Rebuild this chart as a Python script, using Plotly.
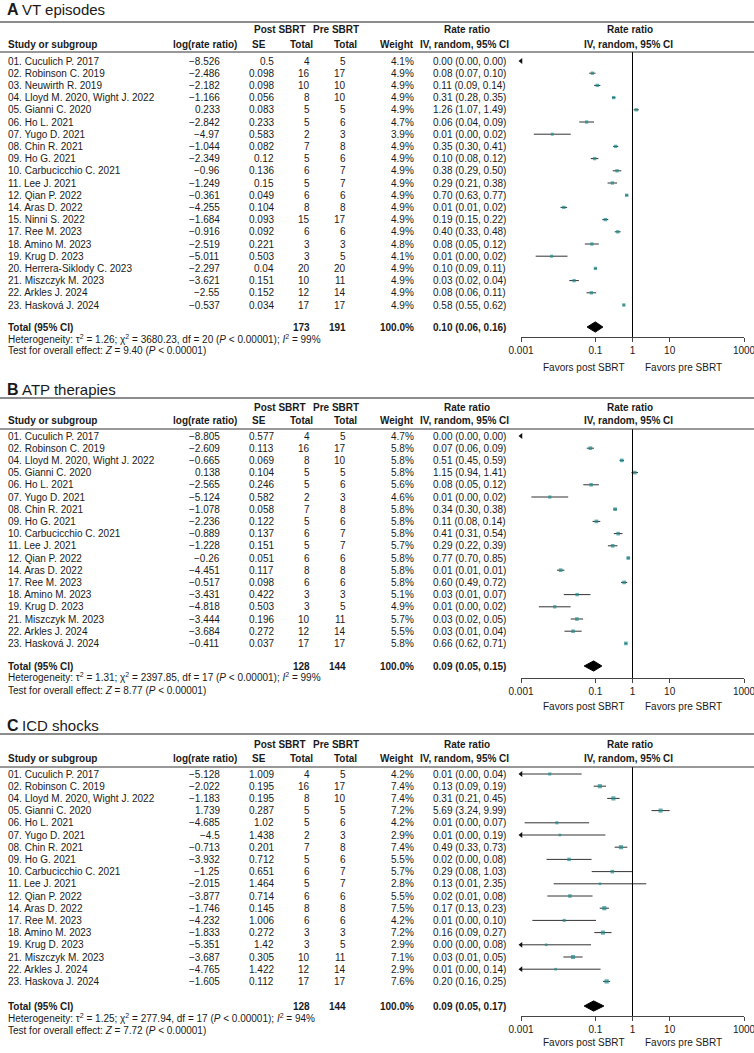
import math
import plotly.graph_objects as go

# ---------------- DATA ----------------
studies_A = ["01. Cuculich P. 2017", "02. Robinson C. 2019", "03. Neuwirth R. 2019",
             "04. Lloyd M. 2020, Wight J. 2022", "05. Gianni C. 2020", "06. Ho L. 2021",
             "07. Yugo D. 2021", "08. Chin R. 2021", "09. Ho G. 2021", "10. Carbucicchio C. 2021",
             "11. Lee J. 2021", "12. Qian P. 2022", "14. Aras D. 2022", "15. Ninni S. 2022",
             "17. Ree M. 2023", "18. Amino M. 2023", "19. Krug D. 2023",
             "20. Herrera-Siklody C. 2023", "21. Miszczyk M. 2023", "22. Arkles J. 2024",
             "23. Hasková J. 2024"]
logrr_A = [-8.526, -2.486, -2.182, -1.166, 0.233, -2.842, -4.97, -1.044, -2.349, -0.96, -1.249,
           -0.361, -4.255, -1.684, -0.916, -2.519, -5.011, -2.297, -3.621, -2.55, -0.537]
se_A = [0.5, 0.098, 0.098, 0.056, 0.083, 0.233, 0.583, 0.082, 0.12, 0.136, 0.15, 0.049, 0.104,
        0.093, 0.092, 0.221, 0.503, 0.04, 0.151, 0.152, 0.034]
post_A = [4, 16, 10, 8, 5, 5, 2, 7, 5, 6, 5, 6, 8, 15, 6, 3, 3, 20, 10, 12, 17]
pre_A = [5, 17, 10, 10, 5, 6, 3, 8, 6, 7, 7, 6, 8, 17, 6, 3, 5, 20, 11, 14, 17]
weight_A = [4.1, 4.9, 4.9, 4.9, 4.9, 4.7, 3.9, 4.9, 4.9, 4.9, 4.9, 4.9, 4.9, 4.9, 4.9, 4.8, 4.1,
            4.9, 4.9, 4.9, 4.9]
ci_A = ["0.00 (0.00, 0.00)", "0.08 (0.07, 0.10)", "0.11 (0.09, 0.14)", "0.31 (0.28, 0.35)",
        "1.26 (1.07, 1.49)", "0.06 (0.04, 0.09)", "0.01 (0.00, 0.02)", "0.35 (0.30, 0.41)",
        "0.10 (0.08, 0.12)", "0.38 (0.29, 0.50)", "0.29 (0.21, 0.38)", "0.70 (0.63, 0.77)",
        "0.01 (0.01, 0.02)", "0.19 (0.15, 0.22)", "0.40 (0.33, 0.48)", "0.08 (0.05, 0.12)",
        "0.01 (0.00, 0.02)", "0.10 (0.09, 0.11)", "0.03 (0.02, 0.04)", "0.08 (0.06, 0.11)",
        "0.58 (0.55, 0.62)"]
total_A = [173, 191]
pooled_A = [0.10, 0.06, 0.16]
stats_A = ["1.26", "3680.23", "20", "99", "9.40"]

studies_B = ["01. Cuculich P. 2017", "02. Robinson C. 2019", "04. Lloyd M. 2020, Wight J. 2022",
             "05. Gianni C. 2020", "06. Ho L. 2021", "07. Yugo D. 2021", "08. Chin R. 2021",
             "09. Ho G. 2021", "10. Carbucicchio C. 2021", "11. Lee J. 2021", "12. Qian P. 2022",
             "14. Aras D. 2022", "17. Ree M. 2023", "18. Amino M. 2023", "19. Krug D. 2023",
             "21. Miszczyk M. 2023", "22. Arkles J. 2024", "23. Hasková J. 2024"]
logrr_B = [-8.805, -2.609, -0.665, 0.138, -2.565, -5.124, -1.078, -2.236, -0.889, -1.228, -0.26,
           -4.451, -0.517, -3.431, -4.818, -3.444, -3.684, -0.411]
se_B = [0.577, 0.113, 0.069, 0.104, 0.246, 0.582, 0.058, 0.122, 0.137, 0.151, 0.051, 0.117,
        0.098, 0.422, 0.503, 0.196, 0.272, 0.037]
post_B = [4, 16, 8, 5, 5, 2, 7, 5, 6, 5, 6, 8, 6, 3, 3, 10, 12, 17]
pre_B = [5, 17, 10, 5, 6, 3, 8, 6, 7, 7, 6, 8, 6, 3, 5, 11, 14, 17]
weight_B = [4.7, 5.8, 5.8, 5.8, 5.6, 4.6, 5.8, 5.8, 5.8, 5.7, 5.8, 5.8, 5.8, 5.1, 4.9, 5.7, 5.5, 5.8]
ci_B = ["0.00 (0.00, 0.00)", "0.07 (0.06, 0.09)", "0.51 (0.45, 0.59)", "1.15 (0.94, 1.41)",
        "0.08 (0.05, 0.12)", "0.01 (0.00, 0.02)", "0.34 (0.30, 0.38)", "0.11 (0.08, 0.14)",
        "0.41 (0.31, 0.54)", "0.29 (0.22, 0.39)", "0.77 (0.70, 0.85)", "0.01 (0.01, 0.01)",
        "0.60 (0.49, 0.72)", "0.03 (0.01, 0.07)", "0.01 (0.00, 0.02)", "0.03 (0.02, 0.05)",
        "0.03 (0.01, 0.04)", "0.66 (0.62, 0.71)"]
total_B = [128, 144]
pooled_B = [0.09, 0.05, 0.15]
stats_B = ["1.31", "2397.85", "17", "99", "8.77"]

studies_C = ["01. Cuculich P. 2017", "02. Robinson C. 2019", "04. Lloyd M. 2020, Wight J. 2022",
             "05. Gianni C. 2020", "06. Ho L. 2021", "07. Yugo D. 2021", "08. Chin R. 2021",
             "09. Ho G. 2021", "10. Carbucicchio C. 2021", "11. Lee J. 2021", "12. Qian P. 2022",
             "14. Aras D. 2022", "17. Ree M. 2023", "18. Amino M. 2023", "19. Krug D. 2023",
             "21. Miszczyk M. 2023", "22. Arkles J. 2024", "23. Haskova J. 2024"]
logrr_C = [-5.128, -2.022, -1.183, 1.739, -4.685, -4.5, -0.713, -3.932, -1.25, -2.015, -3.877,
           -1.746, -4.232, -1.833, -5.351, -3.687, -4.765, -1.605]
se_C = [1.009, 0.195, 0.195, 0.287, 1.02, 1.438, 0.201, 0.712, 0.651, 1.464, 0.714, 0.145,
        1.006, 0.272, 1.42, 0.305, 1.422, 0.112]
post_C = [4, 16, 8, 5, 5, 2, 7, 5, 6, 5, 6, 8, 6, 3, 3, 10, 12, 17]
pre_C = [5, 17, 10, 5, 6, 3, 8, 6, 7, 7, 6, 8, 6, 3, 5, 11, 14, 17]
weight_C = [4.2, 7.4, 7.4, 7.2, 4.2, 2.9, 7.4, 5.5, 5.7, 2.8, 5.5, 7.5, 4.2, 7.2, 2.9, 7.1, 2.9, 7.6]
ci_C = ["0.01 (0.00, 0.04)", "0.13 (0.09, 0.19)", "0.31 (0.21, 0.45)", "5.69 (3.24, 9.99)",
        "0.01 (0.00, 0.07)", "0.01 (0.00, 0.19)", "0.49 (0.33, 0.73)", "0.02 (0.00, 0.08)",
        "0.29 (0.08, 1.03)", "0.13 (0.01, 2.35)", "0.02 (0.01, 0.08)", "0.17 (0.13, 0.23)",
        "0.01 (0.00, 0.10)", "0.16 (0.09, 0.27)", "0.00 (0.00, 0.08)", "0.03 (0.01, 0.05)",
        "0.01 (0.00, 0.14)", "0.20 (0.16, 0.25)"]
total_C = [128, 144]
pooled_C = [0.09, 0.05, 0.17]
stats_C = ["1.25", "277.94", "17", "94", "7.72"]

tick_vals = [0.001, 0.1, 1, 10, 1000]
tick_text = ["0.001", "0.1", "1", "10", "1000"]

# ---------------- LAYOUT / STYLE ----------------
W, H = 754, 1053
FONT = "Liberation Sans, Arial, sans-serif"
TXT = "#1a1a1a"
LINE = "#333333"
TEAL = "#1f8c8c"
STEP = 12.2
XMIN = 0.001

panels = [
    dict(letter="A", title="VT episodes", studies=studies_A, logrr=logrr_A, se=se_A, post=post_A,
         pre=pre_A, weight=weight_A, ci=ci_A, total=total_A, pooled=pooled_A, stats=stats_A,
         g=dict(title=10, top=22, h1=30, h2=44, hline=52, row0=61, total=327, het=339, test=351,
                axis=337, favors=367)),
    dict(letter="B", title="ATP therapies", studies=studies_B, logrr=logrr_B, se=se_B, post=post_B,
         pre=pre_B, weight=weight_B, ci=ci_B, total=total_B, pooled=pooled_B, stats=stats_B,
         g=dict(title=389, top=398, h1=407, h2=420, hline=429, row0=436, total=666, het=677,
                test=690, axis=678, favors=706)),
    dict(letter="C", title="ICD shocks", studies=studies_C, logrr=logrr_C, se=se_C, post=post_C,
         pre=pre_C, weight=weight_C, ci=ci_C, total=total_C, pooled=pooled_C, stats=stats_C,
         g=dict(title=725, top=734, h1=744, h2=758, hline=767, row0=774, total=1006, het=1018,
                test=1030, axis=1016, favors=1042)),
]

fig = go.Figure()
annotations = []
shapes = []


def fmt(v):
    return str(v).replace("-", "\u2212")


def py(p):
    return 1 - p / H


def add_text(text, x, y, yref="paper", anchor="left", size=10, bold=False):
    if bold:
        text = "<b>" + text + "</b>"
    annotations.append(dict(text=text, x=x / W, xref="paper", y=y, yref=yref, xanchor=anchor,
                            yanchor="middle", showarrow=False, borderpad=0, borderwidth=0,
                            font=dict(size=size, family=FONT, color=TXT)))


def hline(p, color, width):
    shapes.append(dict(type="line", xref="paper", yref="paper", x0=0, x1=1, y0=py(p), y1=py(p),
                       line=dict(color=color, width=width)))


layout_axes = {}
for k, P in enumerate(panels):
    sfx = "" if k == 0 else str(k + 1)
    xr, yr = "x" + sfx, "y" + sfx
    g = P["g"]

    def idx(p, g=g):
        return (p - g["row0"]) / STEP

    n = len(P["studies"])
    ys = list(range(n))

    # CI lines, estimates, arrows
    lx, ly, mx, my, ms, ax_, ay_ = [], [], [], [], [], [], []
    for i, (l, s, w) in enumerate(zip(P["logrr"], P["se"], P["weight"])):
        est = math.exp(l)
        lo = math.exp(l - 1.96 * s)
        hi = math.exp(l + 1.96 * s)
        if hi > XMIN:
            lx += [max(lo, XMIN), hi, None]
            ly += [i, i, None]
        if lo < XMIN:
            ax_.append(XMIN)
            ay_.append(i)
        if est >= XMIN:
            mx.append(est)
            my.append(i)
            ms.append(1.6 + 0.35 * w)
    fig.add_trace(go.Scatter(x=lx, y=ly, mode="lines", line=dict(color=LINE, width=1),
                             xaxis=xr, yaxis=yr, showlegend=False, hoverinfo="skip",
                             cliponaxis=False))
    fig.add_trace(go.Scatter(x=mx, y=my, mode="markers",
                             marker=dict(symbol="square", size=ms, color=TEAL, line=dict(width=0)),
                             xaxis=xr, yaxis=yr, showlegend=False, cliponaxis=False))
    fig.add_trace(go.Scatter(x=ax_, y=ay_, mode="markers",
                             marker=dict(symbol="triangle-left", size=5, color="#111111"),
                             xaxis=xr, yaxis=yr, showlegend=False, cliponaxis=False))
    # pooled diamond
    t = idx(g["total"])
    est, lo, hi = P["pooled"]
    d = 0.42
    fig.add_trace(go.Scatter(x=[lo, est, hi, est, lo], y=[t, t - d, t, t + d, t], mode="lines",
                             fill="toself", fillcolor="#000000", line=dict(color="#000000", width=1),
                             xaxis=xr, yaxis=yr, showlegend=False, hoverinfo="skip",
                             cliponaxis=False))
    # line of no effect
    fig.add_trace(go.Scatter(x=[1, 1], y=[idx(g["hline"]), idx(g["axis"])], mode="lines",
                             line=dict(color="#000000", width=1), xaxis=xr, yaxis=yr,
                             showlegend=False, hoverinfo="skip", cliponaxis=False))

    layout_axes["xaxis" + sfx] = dict(
        domain=[521 / W, 744 / W], anchor=yr, type="log", range=[-3, 3],
        tickvals=tick_vals, ticktext=tick_text, showline=True, linecolor="#444444", linewidth=1,
        ticks="outside", ticklen=4, tickcolor="#444444", showgrid=False, zeroline=False,
        tickfont=dict(size=10, family=FONT, color=TXT), fixedrange=True, automargin=False,
        ticklabeloverflow="allow")
    layout_axes["yaxis" + sfx] = dict(
        domain=[py(g["axis"]), py(g["hline"])], anchor=xr,
        range=[idx(g["axis"]), idx(g["hline"])], visible=False, showgrid=False,
        zeroline=False, fixedrange=True)

    # title
    add_text(P["letter"], 7, py(g["title"]), size=16, bold=True)
    add_text(P["title"], 22, py(g["title"]), size=15)
    # rules
    hline(g["top"], "#8c8c8c", 2)
    hline(g["hline"], "#333333", 1)
    # headers
    add_text("Post SBRT", 280, py(g["h1"]), anchor="center", bold=True)
    add_text("Pre SBRT", 336, py(g["h1"]), anchor="center", bold=True)
    add_text("Rate ratio", 467, py(g["h1"]), anchor="center", bold=True)
    add_text("Rate ratio", 630, py(g["h1"]), anchor="center", bold=True)
    add_text("Study or subgroup", 8, py(g["h2"]), bold=True)
    add_text("log(rate ratio)", 237, py(g["h2"]), anchor="right", bold=True)
    add_text("SE", 259, py(g["h2"]), anchor="center", bold=True)
    add_text("Total", 313, py(g["h2"]), anchor="right", bold=True)
    add_text("Total", 357, py(g["h2"]), anchor="right", bold=True)
    add_text("Weight", 414, py(g["h2"]), anchor="right", bold=True)
    add_text("IV, random, 95% CI", 464, py(g["h2"]), anchor="center", bold=True)
    add_text("IV, random, 95% CI", 628, py(g["h2"]), anchor="center", bold=True)
    # rows
    for i in ys:
        add_text(P["studies"][i], 8, i, yref=yr)
        add_text(fmt(P["logrr"][i]), 220, i, yref=yr, anchor="right")
        add_text(fmt(P["se"][i]), 274, i, yref=yr, anchor="right")
        add_text(str(P["post"][i]), 310, i, yref=yr, anchor="right")
        add_text(str(P["pre"][i]), 346, i, yref=yr, anchor="right")
        add_text(f"{P['weight'][i]:.1f}%", 414, i, yref=yr, anchor="right")
        add_text(P["ci"][i], 433, i, yref=yr)
    # total row
    add_text("Total (95% CI)", 8, t, yref=yr, bold=True)
    add_text(str(P["total"][0]), 310, t, yref=yr, anchor="right", bold=True)
    add_text(str(P["total"][1]), 346, t, yref=yr, anchor="right", bold=True)
    add_text("100.0%", 414, t, yref=yr, anchor="right", bold=True)
    add_text(f"{est:.2f} ({lo:.2f}, {hi:.2f})", 433, t, yref=yr, bold=True)
    tau, chi, df, i2, z = P["stats"]
    add_text(f"Heterogeneity: \u03c4<sup>2</sup> = {tau}; \u03c7<sup>2</sup> = {chi}, df = {df} "
             f"(<i>P</i> &lt; 0.00001); <i>I</i><sup>2</sup> = {i2}%", 8, py(g["het"]))
    add_text(f"Test for overall effect: <i>Z</i> = {z} (<i>P</i> &lt; 0.00001)", 8, py(g["test"]))
    # favours labels
    add_text("Favors post SBRT", 625, py(g["favors"]), anchor="right")
    add_text("Favors pre SBRT", 645, py(g["favors"]), anchor="left")

fig.update_layout(
    width=W, height=H, margin=dict(l=0, r=0, t=0, b=0),
    paper_bgcolor="white", plot_bgcolor="white",
    font=dict(family=FONT, size=10, color=TXT),
    annotations=annotations, shapes=shapes, showlegend=False,
    **layout_axes,
)

fig.write_html(
    "out.html",
    config={"displayModeBar": False},
    post_script="document.body.style.margin='0';document.body.style.overflow='hidden';",
)
